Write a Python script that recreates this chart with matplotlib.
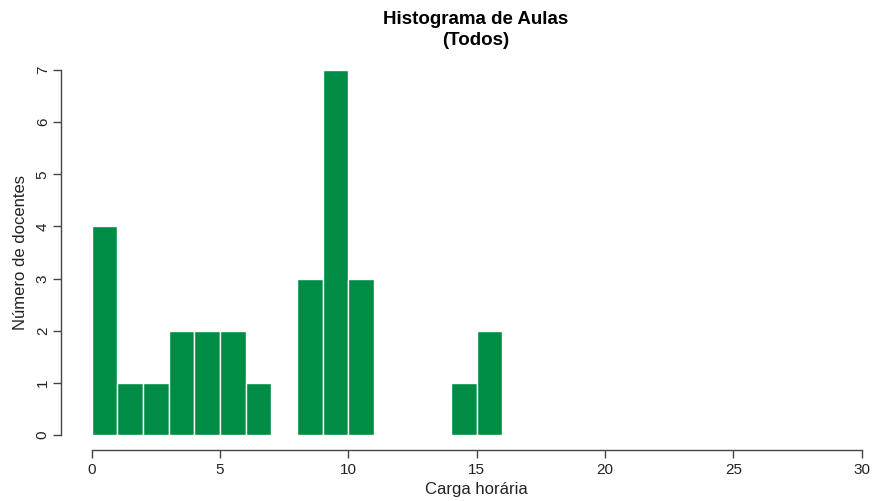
import matplotlib
matplotlib.use("Agg")
import matplotlib.pyplot as plt
import numpy as np

plt.rcParams['font.family'] = ['Liberation Sans', 'DejaVu Sans']

# histogram bins (left edges, width 1) and counts
bin_left = [0, 1, 2, 3, 4, 5, 6, 7, 8, 9, 10, 11, 12, 13, 14, 15]
counts = [4, 1, 1, 2, 2, 2, 1, 0, 3, 7, 3, 0, 0, 0, 1, 2]
xticks = [0, 5, 10, 15, 20, 25, 30]
yticks = [0, 1, 2, 3, 4, 5, 6, 7]

fig = plt.figure(figsize=(8.72, 5.01), dpi=100)
ax = fig.add_axes([60.9 / 872, 51.4 / 501, 831.6 / 872, 394.2 / 501])

ax.bar(bin_left, counts, width=1, align='edge', color='#008C45',
       edgecolor='white', linewidth=1)

ax.set_xlim(-1.2, 31.2)
ax.set_ylim(-0.28, 7.28)
ax.spines['top'].set_visible(False)
ax.spines['right'].set_visible(False)
ax.spines['left'].set_bounds(0, 7)
ax.spines['bottom'].set_bounds(0, 30)
for s in ('left', 'bottom'):
    ax.spines[s].set_color('#444444')
    ax.spines[s].set_linewidth(1)

ax.set_xticks(xticks)
ax.set_yticks(yticks)
ax.tick_params(axis='both', length=6, width=1, color='#444444', labelsize=11, labelcolor='#222222')
ax.tick_params(axis='x', pad=4)
ax.tick_params(axis='y', pad=2)
for lab in ax.get_yticklabels():
    lab.set_rotation(90)
    lab.set_va('center')

ax.set_xlabel('Carga horária', fontsize=12, color='#222222', va='center')
ax.set_ylabel('Número de docentes', fontsize=12, color='#222222', va='center')
ax.xaxis.set_label_coords(0.5, -0.1)
ax.yaxis.set_label_coords(-0.049, 0.5)
fig.text(476 / 872, 1 - 30 / 501, 'Histograma de Aulas\n(Todos)', ha='center', va='center',
         fontsize=13.5, fontweight='bold', linespacing=1.3)

fig.savefig('out.png', dpi=100)
